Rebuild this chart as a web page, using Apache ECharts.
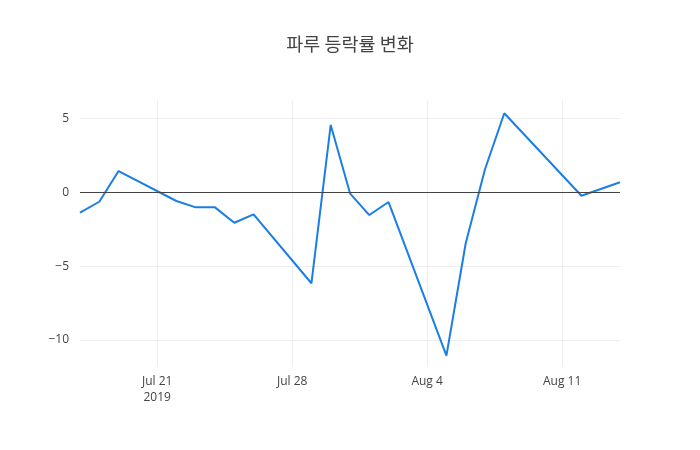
<!DOCTYPE html>
<html>
<head>
<meta charset="utf-8">
<script src="https://cdn.jsdelivr.net/npm/echarts@6/dist/echarts.min.js"></script>
<style>
  html, body { margin: 0; padding: 0; background: #fff; }
  #main { width: 700px; height: 450px; }
</style>
</head>
<body>
<div id="main"></div>
<script>
// 날짜 (UTC)와 등락률
var dates = ['2019-07-17', '2019-07-18', '2019-07-19', '2019-07-22', '2019-07-23',
             '2019-07-24', '2019-07-25', '2019-07-26', '2019-07-29', '2019-07-30',
             '2019-07-31', '2019-08-01', '2019-08-02', '2019-08-05', '2019-08-06',
             '2019-08-07', '2019-08-08', '2019-08-12', '2019-08-14'];
var changes = [-1.38, -0.64, 1.44, -0.59, -1.02, -1.02, -2.06, -1.49, -6.16, 4.56,
               -0.07, -1.54, -0.66, -11.06, -3.45, 1.56, 5.35, -0.23, 0.68];
var xTicks = ['2019-07-21', '2019-07-28', '2019-08-04', '2019-08-11'];
var yTicks = [-10, -5, 0, 5];

function ts(s) {
    var p = s.split('-');
    return Date.UTC(+p[0], +p[1] - 1, +p[2]);
}
var months = ['Jan', 'Feb', 'Mar', 'Apr', 'May', 'Jun', 'Jul', 'Aug', 'Sep', 'Oct', 'Nov', 'Dec'];
var xTickVals = xTicks.map(ts);

var myChart = echarts.init(document.getElementById('main'));
var option = {
    backgroundColor: '#fff',
    title: {
        text: '파루 등락률 변화',
        left: 'center',
        top: 30,
        textStyle: {
            fontFamily: '"Noto Sans CJK KR", "Open Sans", sans-serif',
            fontSize: 18.5,
            fontWeight: 'normal',
            color: '#444'
        }
    },
    grid: {
        left: 80,
        right: 80,
        top: 100,
        bottom: 83
    },
    xAxis: {
        type: 'value',
        min: ts(dates[0]),
        max: ts(dates[dates.length - 1]),
        axisLine: { show: false },
        axisTick: { show: false, customValues: xTickVals },
        splitLine: { show: true, lineStyle: { color: '#eee', width: 1 } },
        axisLabel: {
            customValues: xTickVals,
            color: '#444',
            fontSize: 12,
            fontFamily: '"Open Sans", sans-serif',
            margin: 7,
            lineHeight: 16,
            formatter: function (v) {
                var d = new Date(v);
                var s = months[d.getUTCMonth()] + ' ' + d.getUTCDate();
                if (v === xTickVals[0]) s += '\n' + d.getUTCFullYear();
                return s;
            }
        }
    },
    yAxis: {
        type: 'value',
        min: -11.83,
        max: 6.25,
        axisLine: { show: false },
        axisTick: { show: false, customValues: yTicks },
        splitLine: { show: true, lineStyle: { color: '#eee', width: 1 } },
        axisLabel: {
            customValues: yTicks,
            color: '#444',
            fontSize: 12,
            fontFamily: '"Open Sans", sans-serif',
            margin: 11,
            formatter: function (v) {
                return v < 0 ? '\u2212' + Math.abs(v) : String(v);
            }
        }
    },
    series: [
        {
            type: 'line',
            data: dates.map(function (d, i) { return [ts(d), changes[i]]; }),
            showSymbol: false,
            symbol: 'none',
            lineStyle: { color: '#1a7ee6', width: 2 },
            itemStyle: { color: '#1a7ee6' },
            markLine: {
                silent: true,
                symbol: 'none',
                label: { show: false },
                lineStyle: { color: '#444', width: 1, type: 'solid' },
                data: [{ yAxis: 0 }]
            },
            animation: false
        }
    ]
};
myChart.setOption(option);
</script>
</body>
</html>
